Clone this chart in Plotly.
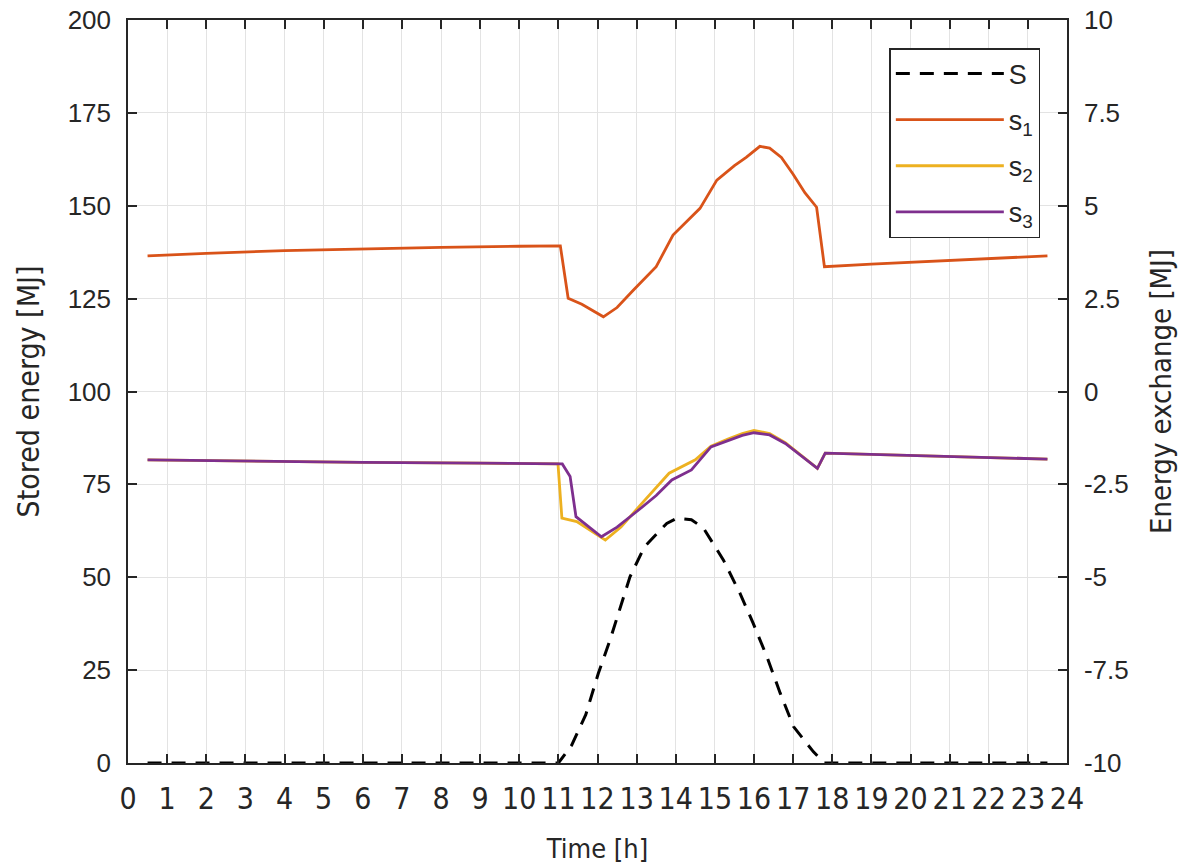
import plotly.graph_objects as go

# ---- data ----
t_S = [0.5, 3, 6, 9, 11.0, 11.34, 11.7, 12.02, 12.32, 12.83, 13.2, 13.77, 14.03, 14.4,
       14.71, 15.22, 15.64, 15.98, 16.33, 16.67, 17.01, 17.52, 17.8, 20, 23.5]
v_S = [-10, -10, -10, -10, -10, -9.52, -8.7, -7.59, -6.69, -4.99, -4.18, -3.55, -3.41, -3.45,
       -3.68, -4.54, -5.43, -6.24, -7.14, -8.12, -9.02, -9.70, -10, -10, -10]

t_s1 = [0.5, 2, 4, 6, 8, 10, 11.05, 11.25, 11.6, 12.15, 12.5, 12.92, 13.5, 13.93, 14.3,
        14.62, 15.05, 15.5, 15.8, 16.15, 16.4, 16.7, 17.0, 17.3, 17.6, 17.8, 19, 21, 23.5]
v_s1 = [136.5, 137.2, 137.9, 138.4, 138.8, 139.1, 139.2, 125.1, 123.5, 120.1, 122.6, 127.3,
        133.6, 142.1, 146.0, 149.3, 156.9, 160.8, 163.0, 166.0, 165.5, 163.0, 158.5, 153.5,
        149.6, 133.6, 134.3, 135.2, 136.5]

t_s2 = [0.5, 3, 6, 9, 10.99, 11.09, 11.47, 12.2, 12.6, 13.06, 13.5, 13.83, 14.5, 14.9,
        15.35, 15.7, 16.0, 16.4, 16.8, 17.2, 17.62, 17.82, 19, 21, 23.5]
v_s2 = [81.6, 81.2, 80.9, 80.7, 80.5, 65.9, 65.0, 60.0, 63.5, 69.0, 74.0, 78.0, 81.6, 85.3,
        87.3, 88.7, 89.5, 88.7, 86.2, 82.9, 79.3, 83.4, 83.1, 82.5, 81.8]

t_s3 = [0.5, 3, 6, 9, 11.1, 11.3, 11.45, 12.1, 12.5, 13.05, 13.5, 13.9, 14.4, 14.9, 15.35,
        15.7, 16.0, 16.4, 16.8, 17.2, 17.62, 17.82, 19, 21, 23.5]
v_s3 = [81.6, 81.2, 80.9, 80.7, 80.5, 77.1, 66.3, 60.9, 63.5, 68.1, 72.0, 76.2, 78.9, 85.1,
        86.9, 88.2, 88.9, 88.3, 86.0, 82.8, 79.3, 83.4, 83.1, 82.5, 81.8]

x_ticks = list(range(0, 25))
y_left_ticks = [0, 25, 50, 75, 100, 125, 150, 175, 200]
y_right_ticks = [-10, -7.5, -5, -2.5, 0, 2.5, 5, 7.5, 10]
y_right_labels = ["-10", "-7.5", "-5", "-2.5", "0", "2.5", "5", "7.5", "10"]

# ---- styling ----
TXT = "#262626"
GRID = "#e3e3e3"
NUM_FONT = "Liberation Sans, Arial, sans-serif"
NARROW = "Liberation Sans Narrow, Arial Narrow, DejaVu Sans Condensed, sans-serif"

fig = go.Figure()
fig.add_trace(go.Scatter(x=t_S, y=v_S, name="S", yaxis="y2", mode="lines",
                         line=dict(color="black", width=3, dash="14px,10px"),
                         legendgroup="g0"))
fig.add_trace(go.Scatter(x=t_s1, y=v_s1, name="s<sub>1</sub>", mode="lines",
                         line=dict(color="#D95319", width=2.8), legendgroup="g1"))
fig.add_trace(go.Scatter(x=t_s2, y=v_s2, name="s<sub>2</sub>", mode="lines",
                         line=dict(color="#EDB120", width=2.8), legendgroup="g2"))
fig.add_trace(go.Scatter(x=t_s3, y=v_s3, name="s<sub>3</sub>", mode="lines",
                         line=dict(color="#7E2F8E", width=2.8), legendgroup="g3"))

fig.update_layout(
    width=1195, height=866,
    margin=dict(l=120, r=136, t=12, b=111, autoexpand=False),
    paper_bgcolor="white", plot_bgcolor="white",
    showlegend=True,
    legend=dict(x=0.9716, y=0.9623, xanchor="right", yanchor="top",
                bgcolor="white", bordercolor=TXT, borderwidth=1.5,
                font=dict(family=NUM_FONT, size=27, color=TXT),
                tracegroupgap=8, itemwidth=108,
                traceorder="grouped"),
    xaxis=dict(range=[0, 24], tickmode="array", tickvals=x_ticks, automargin=False,
               ticks="inside", ticklen=9, tickwidth=1.5, tickcolor=TXT,
               ticklabelstandoff=8, ticklabeloverflow="allow",
               showline=True, linecolor=TXT, linewidth=1.5, mirror="ticks",
               showgrid=True, gridcolor=GRID, gridwidth=1, zeroline=False,
               tickfont=dict(family=NARROW, size=30, color=TXT),
               title=dict(text="Time [h]", font=dict(family=NARROW, size=27, color=TXT),
                          standoff=24)),
    yaxis=dict(range=[0, 200], tickmode="array", tickvals=y_left_ticks, automargin=False,
               ticks="inside", ticklen=9, tickwidth=1.5, tickcolor=TXT,
               ticklabelstandoff=10, ticklabeloverflow="allow",
               showline=True, linecolor=TXT, linewidth=1.5,
               showgrid=True, gridcolor=GRID, gridwidth=1, zeroline=False,
               tickfont=dict(family=NUM_FONT, size=26, color=TXT),
               title=dict(text="Stored energy [MJ]",
                          font=dict(family=NARROW, size=30, color=TXT), standoff=19)),
    yaxis2=dict(range=[-10, 10], overlaying="y", side="right", tickmode="array",
                tickvals=y_right_ticks, ticktext=y_right_labels, automargin=False,
                ticks="inside", ticklen=9, tickwidth=1.5, tickcolor=TXT,
                ticklabelstandoff=10, ticklabeloverflow="allow",
                showline=True, linecolor=TXT, linewidth=1.5,
                showgrid=False, zeroline=False,
                tickfont=dict(family=NUM_FONT, size=26, color=TXT),
                title=dict(text="Energy exchange [MJ]",
                           font=dict(family=NARROW, size=29, color=TXT), standoff=23)),
)

fig.write_html("out.html")
